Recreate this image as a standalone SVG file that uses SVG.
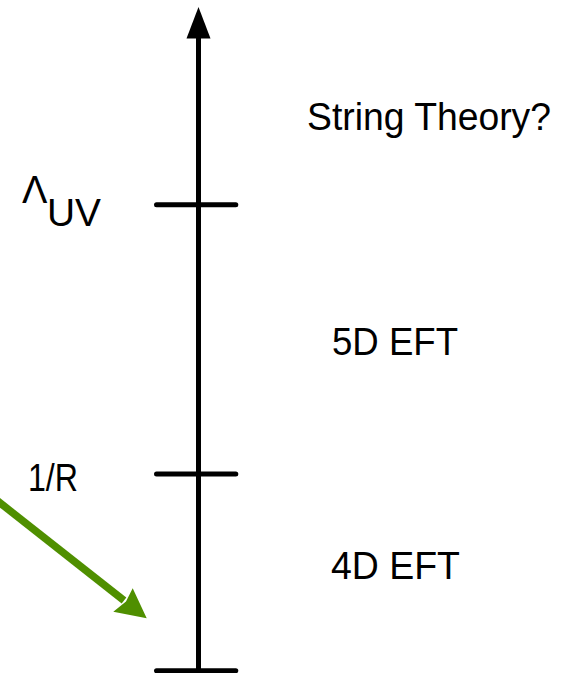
<svg xmlns="http://www.w3.org/2000/svg" width="569" height="673" viewBox="0 0 569 673">
  <style>
    .lbl { font-family: "Liberation Sans", Arial, sans-serif; font-size: 38px; fill: #000; }
    .axis { stroke: #000; stroke-width: 5; fill: none; }
    .tick { stroke: #000; stroke-width: 5; stroke-linecap: round; fill: none; }
  </style>
  <rect width="569" height="673" fill="#fff"/>
  <g id="connectors">
    <line class="axis" x1="198.5" y1="36" x2="198.5" y2="671"/>
    <polygon points="198.5,7 186.5,38.5 210.5,38.5" fill="#000"/>
    <g id="green-arrow">
      <line x1="-10" y1="495" x2="124" y2="600.5" stroke="#4f8f00" stroke-width="7.5"/>
      <polygon points="146.7,618.3 132.7,588.3 126,601.5 113.3,611.7" fill="#4f8f00"/>
    </g>
  </g>
  <g id="tick-uv"><line class="tick" x1="156.5" y1="204.8" x2="235.8" y2="204.8"/></g>
  <g id="tick-r"><line class="tick" x1="156.5" y1="474" x2="235.8" y2="474"/></g>
  <g id="tick-bottom"><line class="tick" x1="156.5" y1="670.8" x2="235.8" y2="670.8"/></g>
  <g id="label-uv">
    <text class="lbl" x="22" y="203">Λ</text>
    <text class="lbl" x="47" y="226" textLength="54" lengthAdjust="spacingAndGlyphs">UV</text>
  </g>
  <g id="label-r"><text class="lbl" x="28" y="491" textLength="50" lengthAdjust="spacingAndGlyphs">1/R</text></g>
  <g id="label-string"><text class="lbl" x="307" y="130" textLength="244" lengthAdjust="spacingAndGlyphs">String Theory?</text></g>
  <g id="label-5d"><text class="lbl" x="332" y="355" textLength="126" lengthAdjust="spacingAndGlyphs">5D EFT</text></g>
  <g id="label-4d"><text class="lbl" x="331" y="578.5" textLength="129" lengthAdjust="spacingAndGlyphs">4D EFT</text></g>
</svg>
